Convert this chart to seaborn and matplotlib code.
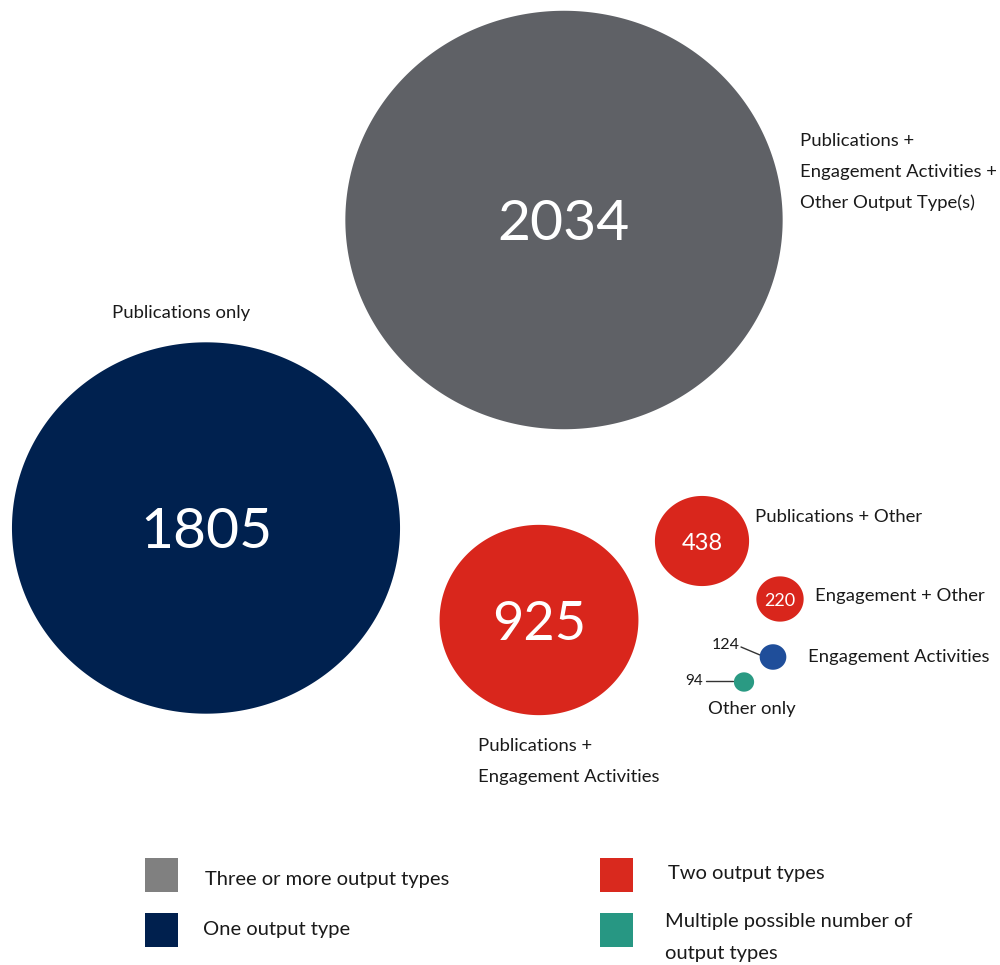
import numpy as np
import pandas as pd
import matplotlib
matplotlib.use("Agg")
import matplotlib.pyplot as plt
from matplotlib.path import Path
from matplotlib.patches import Rectangle
import seaborn as sns

# ---- data -------------------------------------------------------------
categories = [
    "Publications +\nEngagement Activities +\nOther Output Type(s)",
    "Publications only",
    "Publications +\nEngagement Activities",
    "Publications + Other",
    "Engagement + Other",
    "Engagement Activities",
    "Other only",
]
counts = [2034, 1805, 925, 438, 220, 124, 94]
output_group = ["three", "one", "two", "two", "two", "one", "multiple"]

legend_groups = ["three", "one", "two", "multiple"]
legend_labels = [
    "Three or more output types",
    "One output type",
    "Two output types",
    "Multiple possible number of\noutput types",
]

# ---- layout & style ---------------------------------------------------
centre_x = [564, 206, 539, 702, 780, 773, 744]
centre_y = [220, 528, 620, 541, 599, 657, 682]
bubble_colors = ["#5f6166", "#00214f", "#d9261c", "#d9261c", "#d9261c",
                 "#1f4e9a", "#2a9a83"]
value_font = [41, 41, 39, 17, 13, 11.5, 11]
# value text placement: None -> centred inside the bubble
value_outside = [None, None, None, None, None, (726, 645), (694, 681)]
leader_lines = [None, None, None, None, None,
                ((741, 760), (647, 655)), ((706, 733), (681, 681))]
label_pos = [(800, 141), (112, 313), (478, 746), (755, 517),
             (815, 596), (808, 657), (708, 709)]
label_line_gap = 31
LABEL_SIZE = 13.3
LEGEND_SIZE = 14.5

legend_colors = {"three": "#808080", "one": "#00204e",
                 "two": "#d9291e", "multiple": "#279783"}
legend_pos = {"three": (145, 858), "one": (145, 913),
              "two": (600, 858), "multiple": (600, 913)}
legend_text_pos = {"three": (205, 879), "one": (203, 930),
                   "two": (668, 874), "multiple": (665, 922)}

PX_PER_UNIT = 0.215      # bubble diameter in pixels per count
STRETCH = 1.045          # bubbles are slightly wider than tall
DPI = 100

sns.set_theme(style="white")
plt.rcParams["font.family"] = ["Lato", "DejaVu Sans"]
TEXT = "#1a1a1a"

df = pd.DataFrame({
    "category": categories,
    "count": counts,
    "group": output_group,
    "cx": centre_x,
    "cy": centre_y,
})

fig = plt.figure(figsize=(10, 9.65), dpi=DPI)
ax = fig.add_axes([0, 0, 1, 1])
ax.set_xlim(0, 1000)
ax.set_ylim(965, 0)
ax.axis("off")

# slightly wide elliptical marker
theta = np.linspace(0, 2 * np.pi, 361)
ellipse = Path(np.column_stack([np.cos(theta), np.sin(theta) / STRETCH]),
               closed=True)

size_map = {v: (PX_PER_UNIT * v * 72 / DPI) ** 2 for v in counts}

sns.scatterplot(
    data=df, x="cx", y="cy",
    hue="category", palette=dict(zip(categories, bubble_colors)),
    size="count", sizes=size_map,
    marker=ellipse, linewidth=0, edgecolor="none",
    legend=False, ax=ax, zorder=2,
)


def put_lines(x, y, text, size, **kw):
    for i, line in enumerate(text.split("\n")):
        ax.text(x, y + i * label_line_gap, line, fontsize=size,
                va="center", **kw)


for i, row in df.iterrows():
    # count value
    if value_outside[i] is None:
        ax.text(row.cx, row.cy, f"{row['count']}", color="white",
                fontsize=value_font[i], ha="center", va="center_baseline",
                zorder=3)
    else:
        tx, ty = value_outside[i]
        ax.text(tx, ty, f"{row['count']}", color=TEXT,
                fontsize=value_font[i], ha="center", va="center", zorder=3)
        lx, ly = leader_lines[i]
        ax.plot(lx, ly, color="#333333", lw=1, zorder=1)
    # category label
    lx, ly = label_pos[i]
    put_lines(lx, ly, row.category, LABEL_SIZE, color=TEXT, ha="left")

# legend
for g, lab in zip(legend_groups, legend_labels):
    x0, y0 = legend_pos[g]
    ax.add_patch(Rectangle((x0, y0), 33, 34, color=legend_colors[g],
                           lw=0, zorder=2))
    tx, ty = legend_text_pos[g]
    put_lines(tx, ty, lab, LEGEND_SIZE, color=TEXT, ha="left")

fig.savefig("out.png", dpi=DPI, facecolor="white")
